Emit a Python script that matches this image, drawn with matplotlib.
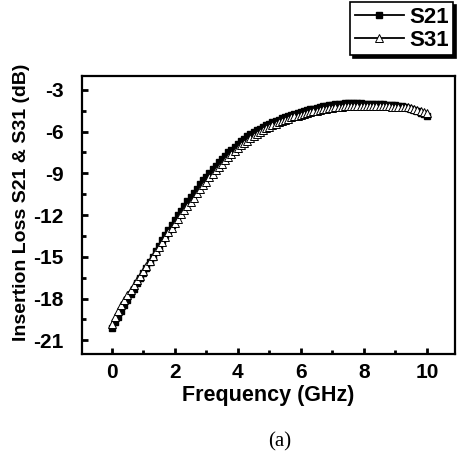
import numpy as np
from matplotlib import pyplot as plt

# Frequency points (GHz), 0.1 GHz step.
freq = [round(0.1 * i, 1) for i in range(101)]

# Insertion loss S21 (dB).
s21 = [-20.1, -19.7, -19.3, -18.9, -18.5, -18.1, -17.7, -17.3, -16.9, -16.55,
       -16.2, -15.8, -15.4, -15.0, -14.6, -14.2, -13.8, -13.45, -13.1, -12.7,
       -12.35, -12.0, -11.7, -11.35, -11.0, -10.7, -10.4, -10.1, -9.8, -9.5,
       -9.25, -9.0, -8.7, -8.45, -8.2, -7.95, -7.75, -7.5, -7.3, -7.1,
       -6.9, -6.7, -6.55, -6.35, -6.2, -6.05, -5.9, -5.8, -5.65, -5.55,
       -5.45, -5.35, -5.25, -5.15, -5.05, -4.95, -4.88, -4.8, -4.72, -4.65,
       -4.58, -4.52, -4.45, -4.4, -4.35, -4.3, -4.25, -4.2, -4.16, -4.12,
       -4.08, -4.05, -4.02, -4.0, -3.98, -3.97, -3.96, -3.96, -3.97, -3.98,
       -3.99, -4.0, -4.01, -4.02, -4.03, -4.04, -4.05, -4.07, -4.09, -4.1,
       -4.12, -4.15, -4.2, -4.25, -4.3, -4.38, -4.45, -4.55, -4.65, -4.75,
       -4.85]

# Insertion loss S31 (dB).
s31 = [-19.8, -19.35, -18.9, -18.5, -18.1, -17.75, -17.4, -17.05, -16.7, -16.35,
       -16.0, -15.65, -15.3, -14.95, -14.6, -14.3, -13.95, -13.6, -13.25, -12.95,
       -12.6, -12.3, -11.95, -11.65, -11.35, -11.05, -10.75, -10.45, -10.15, -9.85,
       -9.6, -9.3, -9.05, -8.8, -8.55, -8.3, -8.05, -7.85, -7.6, -7.4,
       -7.2, -7.0, -6.8, -6.65, -6.5, -6.3, -6.15, -6.0, -5.88, -5.75,
       -5.65, -5.55, -5.45, -5.35, -5.25, -5.15, -5.07, -4.99, -4.92, -4.85,
       -4.78, -4.72, -4.66, -4.6, -4.55, -4.5, -4.45, -4.4, -4.36, -4.32,
       -4.29, -4.26, -4.24, -4.22, -4.2, -4.19, -4.18, -4.17, -4.17, -4.17,
       -4.17, -4.17, -4.17, -4.18, -4.18, -4.19, -4.19, -4.2, -4.2, -4.21,
       -4.22, -4.23, -4.24, -4.25, -4.27, -4.3, -4.35, -4.42, -4.5, -4.58,
       -4.65]

# Tick labels.
xticks = [0, 2, 4, 6, 8, 10]
yticks = [-3, -6, -9, -12, -15, -18, -21]

plt.rcParams['font.family'] = ['Liberation Sans', 'DejaVu Sans']
plt.rcParams['font.weight'] = 'bold'
plt.rcParams['axes.unicode_minus'] = False

fig = plt.figure(figsize=(4.57, 4.57), dpi=100)
ax = fig.add_axes([0.179, 0.225, 0.817, 0.609])

# Plot both curves.
ax.plot(freq, s21, '-', color='black', linewidth=1.3, marker='s', markersize=4.5,
        markerfacecolor='black', markeredgecolor='black', label='S21')
ax.plot(freq, s31, '-', color='black', linewidth=1.3, marker='^', markersize=5.5,
        markerfacecolor='white', markeredgecolor='black', markeredgewidth=0.7, label='S31')

# Axis limits and ticks.
ax.set_xlim(-0.95, 10.9)
ax.set_ylim(-22, -2)
ax.set_xticks(xticks)
ax.set_yticks(yticks)
ax.set_xticks(np.arange(1, 10, 2), minor=True)
ax.set_yticks(np.arange(-19.5, -2, 3), minor=True)
ax.tick_params(which='both', direction='in', top=False, right=False, width=2)
ax.tick_params(which='major', length=4, labelsize=15)
ax.tick_params(axis='x', which='major', pad=6)
ax.tick_params(axis='y', which='major', pad=13)
ax.tick_params(which='minor', length=3)
for sp in ax.spines.values():
    sp.set_linewidth(1.6)

# Axis labels.
ax.set_xlabel('Frequency (GHz)', fontsize=15.5, fontweight='bold', va='center')
ax.xaxis.set_label_coords(0.5, -0.147)
ax.set_ylabel('Insertion Loss S21 & S31 (dB)', fontsize=14, fontweight='bold', va='center')
ax.yaxis.set_label_coords(-0.161, 0.546)

# Legend outside the axes, with a dark shadow.
leg = ax.legend(loc='upper right', bbox_to_anchor=(0.995, 1.265), borderaxespad=0,
                fancybox=False, edgecolor='black', framealpha=1,
                prop={'size': 16, 'weight': 'bold'}, handlelength=2.2,
                handletextpad=0.25, labelspacing=0.1, borderpad=0.2,
                shadow={'facecolor': 'black', 'edgecolor': 'black', 'alpha': 1})
leg.get_frame().set_linewidth(1.2)

# Panel tag.
fig.text(280 / 457, 1 - 442 / 457, '(a)', family=['Liberation Serif', 'DejaVu Serif'],
         fontweight='normal', fontsize=15, ha='center', va='center')

fig.savefig('out.png', dpi=100)
